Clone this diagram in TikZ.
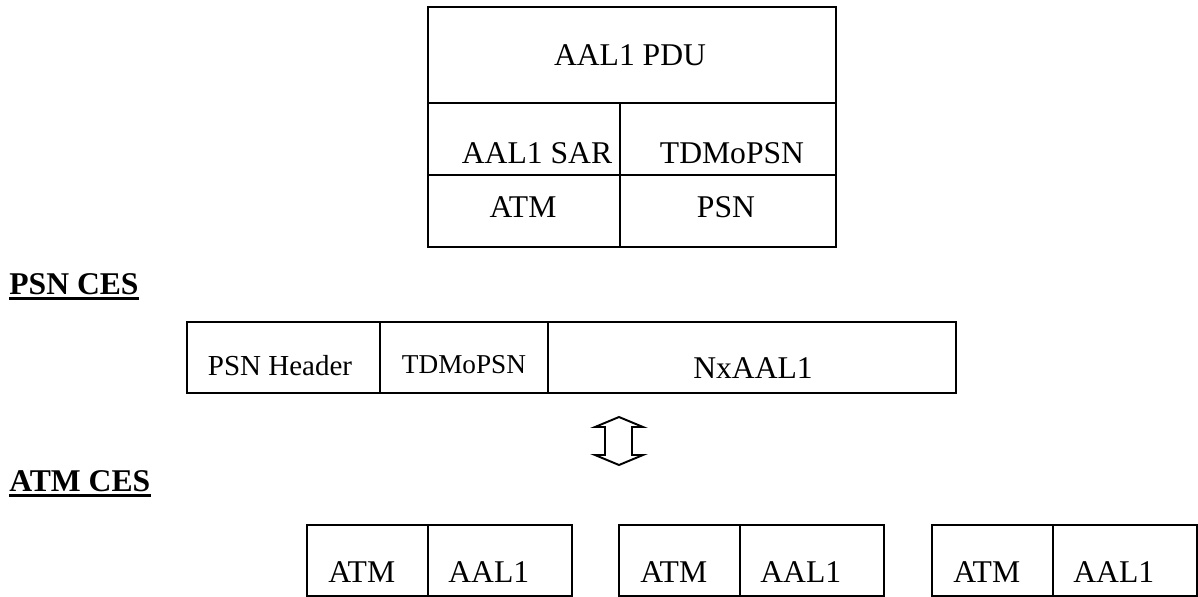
\documentclass[tikz,border=0pt]{standalone}
\usepackage{fontspec}
\setmainfont{Liberation Serif}
\tikzset{
  frame line/.style={line width=1.1pt, black},
  cell text/.style={inner sep=0pt, anchor=base, font=\fontsize{18}{20}\selectfont},
  small text/.style={cell text, font=\fontsize{15.5}{18}\selectfont},
  header text/.style={cell text, font=\fontsize{16.5}{19}\selectfont},
  title text/.style={inner sep=0pt, anchor=base west, font=\fontsize{18}{20}\selectfont\bfseries},
  title rule/.style={line width=1.7pt, black},
}
\newcommand{\drawAtmCell}[2]{% #1 left edge, #2 index
  \draw[frame line] (#1,525) rectangle ++(265,71);
  \draw[frame line] (#1+121,525) -- ++(0,71);
  \node[cell text, anchor=base west] (atm#2) at (#1+21,582) {ATM};
  \node[cell text, anchor=base west] (aal#2) at (#1+141,582) {AAL1};
}

\begin{document}
\begin{tikzpicture}[x=0.2mm, y=-0.2mm]
  \useasboundingbox (0,0) rectangle (1198,597);
  % protocol stack
  \draw[frame line] (428,7) rectangle (836,247);
  \draw[frame line] (428,103) -- (836,103);
  \draw[frame line] (428,175) -- (836,175);
  \draw[frame line] (620,103) -- (620,247);
  \node[cell text] (pdu) at (630,66) {AAL1 PDU};
  \node[cell text] (sar) at (537,163) {AAL1 SAR};
  \node[cell text] (tdmtop) at (732,163) {TDMoPSN};
  \node[cell text] (atmtop) at (523,217) {ATM};
  \node[cell text] (psntop) at (726,217) {PSN};
  % PSN packet
  \node[title text] (psnces) at (9,294) {PSN CES};
  \draw[title rule] ([yshift=-0.9mm]psnces.base west) -- ([yshift=-0.9mm]psnces.base east);
  \draw[frame line] (187,322) rectangle (956,393);
  \draw[frame line] (380,322) -- (380,393);
  \draw[frame line] (548,322) -- (548,393);
  \node[header text] (psnhdr) at (280,375) {PSN Header};
  \node[small text] (tdmmid) at (464,373) {TDMoPSN};
  \node[cell text] (nxaal) at (753,378) {NxAAL1};
  % two-way arrow
  \draw[frame line] (619,417) -- (643,427) -- (632,427) -- (632,455) -- (643,455)
    -- (619,465) -- (595,455) -- (605,455) -- (605,427) -- (595,427) -- cycle;
  % ATM cells
  \node[title text] (atmces) at (9,491) {ATM CES};
  \draw[title rule] ([yshift=-0.9mm]atmces.base west) -- ([yshift=-0.9mm]atmces.base east);
  \foreach \bx/\i in {307/1, 619/2, 932/3} {\drawAtmCell{\bx}{\i}}
\end{tikzpicture}
\end{document}
